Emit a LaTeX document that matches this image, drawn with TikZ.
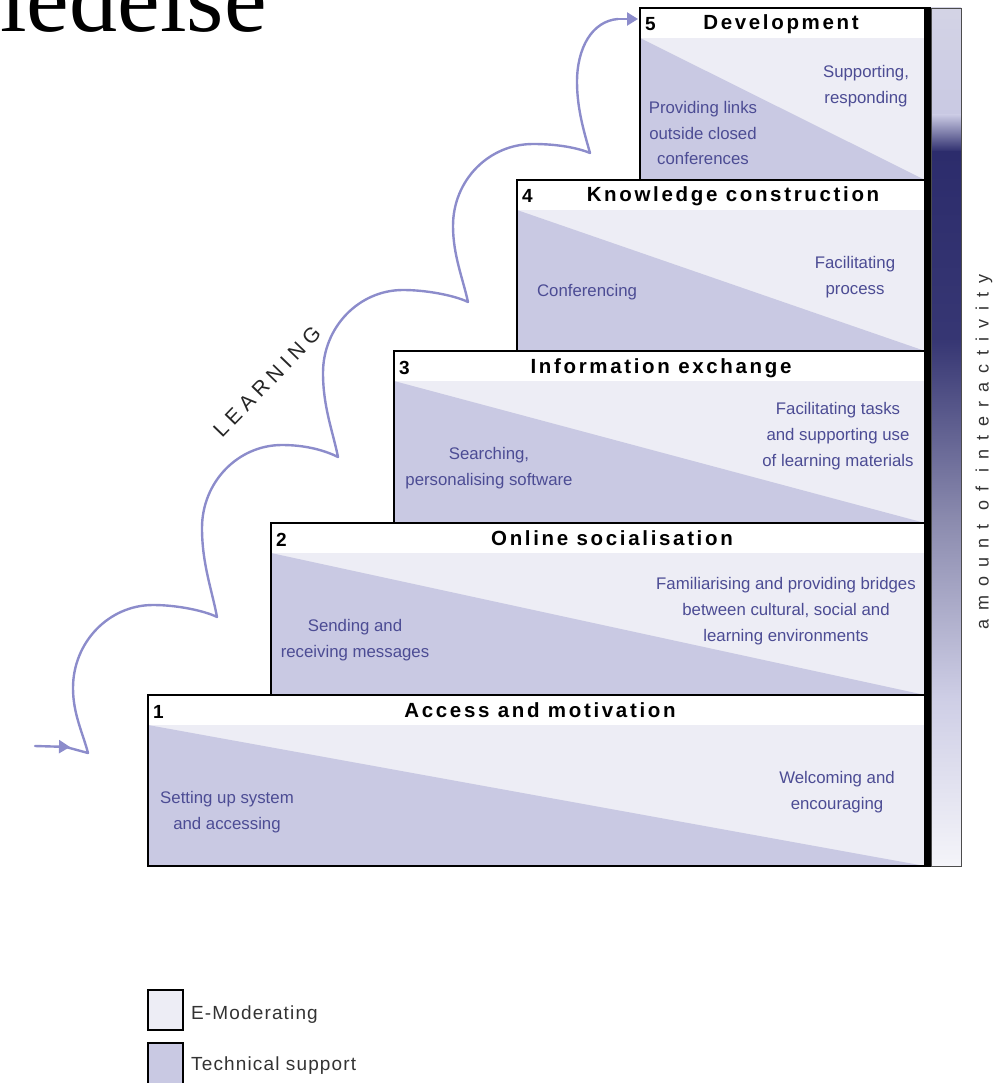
\documentclass[tikz,border=0pt]{standalone}
\usepackage{fontspec}
\setmainfont{Liberation Sans}
\newfontfamily\titlef[LetterSpace=13]{Liberation Sans}
\newfontfamily\legf[LetterSpace=6]{Liberation Sans}
\newfontfamily\amtf[LetterSpace=50]{Liberation Sans}
\newfontfamily\learnf[LetterSpace=25]{Liberation Sans}
\newfontfamily\bigserif{Liberation Serif}
\usetikzlibrary{arrows.meta}
\definecolor{techc}{RGB}{201,201,227}
\definecolor{modc}{RGB}{237,237,245}
\definecolor{txtc}{RGB}{76,76,148}
\definecolor{curvec}{RGB}{140,140,203}
\definecolor{darkbar}{RGB}{44,44,108}
\tikzset{
  boxline/.style={draw=black, line width=1.4pt},
  body/.style={align=center, text=txtc, inner sep=0pt, font=\fontsize{16.8}{25.8}\selectfont},
  steptitle/.style={anchor=base, inner sep=0pt, font=\titlef\bfseries\fontsize{20.5}{22}\selectfont},
  stepnum/.style={anchor=base west, inner sep=0pt, font=\bfseries\fontsize{19}{20}\selectfont},
  curve/.style={draw=curvec, line width=2.4pt, line join=round, line cap=round},
  legtext/.style={anchor=base west, inner sep=0pt, text=black!80, font=\legf\fontsize{19}{20}\selectfont}
}
\begin{document}
\begin{tikzpicture}[x=1pt,y=-1pt]
\useasboundingbox (0,0) rectangle (1007,1083);
% heading fragment
\node[anchor=base west, inner sep=0pt] (ttl) at (0,32) {\bigserif\fontsize{96}{96}\selectfont ledelse};

% steps
\foreach \l/\t/\b/\n/\tt/\tc in {
  148/695/866/1/Access and motivation/540,
  271/523/695/2/Online socialisation/612,
  394/351/523/3/Information exchange/661,
  517/180/351/4/Knowledge construction/733,
  640/8/180/5/Development/781}{
  \fill[white] (\l,\t) rectangle (925,\b);
  \fill[modc] (\l,\t+30) rectangle (925,\b);
  \fill[techc] (\l,\t+30) -- (925,\b) -- (\l,\b) -- cycle;
  \node[stepnum] (n\n) at (\l+5,\t+23) {\n};
  \node[steptitle] (t\n) at (\tc,\t+22) {\tt};
}
\foreach \l/\t/\b in {148/695/866, 271/523/695, 394/351/523, 517/180/351, 640/8/180}{
  \draw[boxline] (\l,\t) rectangle (925,\b);
}

% body texts
\node[body] (s5r) at (866,86) {Supporting,\\responding};
\node[body] (s5l) at (703,133) {Providing links\\outside closed\\conferences};
\node[body] (s4l) at (587,292) {Conferencing};
\node[body] (s4r) at (855,277) {Facilitating\\process};
\node[body] (s3r) at (838,436) {Facilitating tasks\\and supporting use\\of learning materials};
\node[body] (s3l) at (489,468) {Searching,\\personalising software};
\node[body] (s2r) at (786,611) {Familiarising and providing bridges\\between cultural, social and\\learning environments};
\node[body] (s2l) at (355,640) {Sending and\\receiving messages};
\node[body] (s1l) at (227,812) {Setting up system\\and accessing};
\node[body] (s1r) at (837,792) {Welcoming and\\encouraging};

% interactivity bar
\shade[top color=black!4!techc!70!white, bottom color=techc] (931,8) rectangle (961,115);
\shade[top color=techc, bottom color=darkbar] (931,115) rectangle (961,152);
\shade[top color=darkbar, bottom color=darkbar!95!white] (931,152) rectangle (961,340);
\shade[top color=darkbar!95!white, bottom color=darkbar!55!white] (931,340) rectangle (961,520);
\shade[top color=darkbar!55!white, bottom color=techc!90!white] (931,520) rectangle (961,700);
\shade[top color=techc!90!white, bottom color=modc!60!white] (931,700) rectangle (961,866);
\draw[black!70, line width=0.8pt] (931,8) rectangle (961,866);
\fill[black] (925,7.3) rectangle (931,866.7);
\node[rotate=90, inner sep=0pt, text=black!80, font=\amtf\fontsize{18}{18}\selectfont] (amt) at (984,452) {amount of interactivity};

% learning curve
\coordinate (A) at (88,753);
\coordinate (B) at (217,617);
\coordinate (C) at (338,457);
\coordinate (D) at (468,302);
\coordinate (E) at (590,153);
\coordinate (S0) at (35,746);
\coordinate (S1) at (70,747);
\coordinate (F) at (638,19);
\draw[curve, -{Triangle[length=11pt,width=13pt]}] (S0) -- (S1);
\draw[curve] (66,747) -- (A)
  .. controls (83,733.5) and (73,714) .. (73,688)
  .. controls (73,642) and (109,605) .. (153,605)
  .. controls (178,605) and (205,611) .. (B)
  .. controls (212,590) and (202,564) .. (202,528)
  .. controls (202,482) and (238,445) .. (282,445)
  .. controls (307,445) and (326,451) .. (C)
  .. controls (333,432) and (323,407) .. (323,373)
  .. controls (323,327) and (359,290) .. (403,290)
  .. controls (428,290) and (456,296) .. (D)
  .. controls (463,279) and (453,255) .. (453,226)
  .. controls (453,180) and (489,144) .. (533,144)
  .. controls (558,144) and (578,148) .. (E)
  .. controls (585,135) and (577,110) .. (577,82)
  .. controls (577,48) and (592,21) .. (618,19);
\draw[curve, -{Triangle[length=11pt,width=13pt]}] (616,19) -- (F);
\node[rotate=46, inner sep=0pt, text=black!85, font=\learnf\fontsize{21}{22}\selectfont] (learn) at (267,382) {LEARNING};

% legend
\draw[line width=1.6pt, fill=modc] (148,990) rectangle (183,1030);
\draw[line width=1.6pt, fill=techc] (148,1043) rectangle (183,1095);
\node[legtext] (l1) at (191,1019) {E-Moderating};
\node[legtext] (l2) at (191,1070) {Technical support};
\end{tikzpicture}
\end{document}
